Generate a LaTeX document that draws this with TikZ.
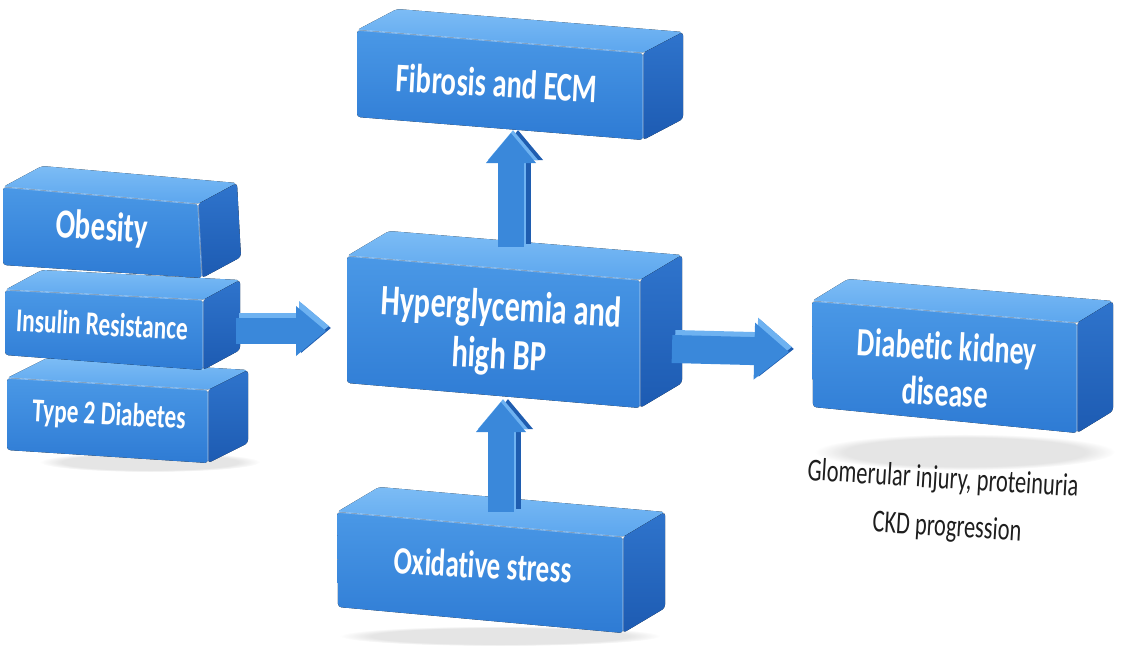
\documentclass[tikz,border=0pt]{standalone}
\usepackage{fontspec}
\newfontfamily\boxfont[FakeStretch=0.7, Ligatures={NoCommon}]{Carlito}
\usetikzlibrary{calc,fadings,arrows.meta}
\definecolor{frontT}{HTML}{4A98E6}
\definecolor{frontB}{HTML}{2E7BD4}
\definecolor{topT}{HTML}{7CBCF5}
\definecolor{topB}{HTML}{5CA6EE}
\definecolor{sideT}{HTML}{2F74CC}
\definecolor{sideB}{HTML}{1D5BB2}
\definecolor{arrC}{HTML}{3A88DA}
\definecolor{arrL}{HTML}{6EB2F1}
\definecolor{arrD}{HTML}{1F5DB0}
\definecolor{capgray}{HTML}{1E1E1E}
\tikzset{
  frontface/.style={top color=frontT, bottom color=frontB, rounded corners=2.5pt},
  topface/.style={top color=topT, bottom color=topB, rounded corners=2.5pt},
  sideface/.style={top color=sideT, bottom color=sideB, rounded corners=2.5pt},
  edgehl/.style={white, opacity=0.35, line width=1pt},
  boxtext/.style={font=\boxfont\bfseries, text=white, align=center, rotate=-3, inner sep=0pt},
  captext/.style={font=\boxfont\fontsize{24}{27}\selectfont, text=capgray, rotate=-3.5, inner sep=0pt},
  softshadow/.style={fill=black, opacity=0.10, path fading=circle with fuzzy edge 20 percent},
  arrA/.style={line width=19.5pt, -{Triangle[length=22.5pt,width=36pt]}},
  arrB/.style={line width=21pt, -{Triangle[length=26pt,width=41pt]}},
}
\newcommand\tdbox[5]{%
  \fill[topface] (#1) -- (#2) -- ($(#2)+(#5)$) -- ($(#1)+(#5)$) -- cycle;
  \fill[sideface] (#2) -- ($(#2)+(#5)$) -- ($(#3)+(#5)$) -- (#3) -- cycle;
  \fill[frontface] (#1) -- (#2) -- (#3) -- (#4) -- cycle;
  \draw[edgehl] (#1) -- (#2) -- (#3);
}
\begin{document}
\begin{tikzpicture}[x=0.75pt, y=-0.75pt]
\useasboundingbox (0,0) rectangle (1121,646);

% soft shadows
\fill[softshadow] (965,452) ellipse [x radius=150, y radius=18];
\fill[softshadow] (150,462) ellipse [x radius=110, y radius=10];
\fill[softshadow] (500,636) ellipse [x radius=160, y radius=10];

% left stack
\tdbox{7,378}{208,390}{208,463}{7,450}{40,-20}
\tdbox{5,290}{203,300}{203,370}{5,355}{37,-20}
\tdbox{3,187}{198,204}{202,278}{3,265}{39,-21}
% other boxes
\tdbox{357,30}{643,53}{643,140}{357,117}{40,-21}
\tdbox{347,256}{640,280}{640,408}{347,383}{42,-25}
\tdbox{337,512}{623,537}{623,633}{338,607}{42,-25}
\tdbox{812,301}{1077,323}{1077,433}{813,407}{36,-22}

% texts
\node[boxtext, font=\boxfont\bfseries\fontsize{31}{34}\selectfont] (ob) at (102,229) {Obesity};
\node[boxtext, font=\boxfont\bfseries\fontsize{25}{28}\selectfont] (ins) at (102,324) {Insulin Resistance};
\node[boxtext, font=\boxfont\bfseries\fontsize{25}{28}\selectfont] (t2d) at (109,416) {Type 2 Diabetes};
\node[boxtext, font=\boxfont\bfseries\fontsize{30.5}{34}\selectfont] (fib) at (497,83) {Fibrosis and ECM};
\node[boxtext, font=\boxfont\bfseries\fontsize{32.5}{36}\selectfont] (hyp) at (500,333) {Hyperglycemia and\\high BP};
\node[boxtext, font=\boxfont\bfseries\fontsize{29}{32}\selectfont] (ox) at (483,565) {Oxidative stress};
\node[boxtext, font=\boxfont\bfseries\fontsize{30}{34.5}\selectfont] (dkd) at (946,369) {Diabetic kidney\\disease};
\node[captext] (cap1) at (943,480) {Glomerular injury, proteinuria};
\node[captext] (cap2) at (947,528) {CKD progression};

% arrow anchor coordinates
\coordinate (insR) at (236,331);
\coordinate (hypL) at (326,331);
\coordinate (hypR) at (672,349);
\coordinate (dkdL) at (789,352);
\coordinate (hypT) at (511,247);
\coordinate (fibB) at (511,133);
\coordinate (oxT) at (501,512);
\coordinate (hypB) at (501,402);

% Insulin Resistance -> Hyperglycemia
\draw[arrA, arrD] ([shift={(5,-3)}]insR) -- ([shift={(5,-3)}]hypL);
\draw[arrA, arrL] ([shift={(3,-5)}]insR) -- ([shift={(3,-5)}]hypL);
\draw[arrA, arrC] (insR) -- (hypL);
% Hyperglycemia -> Diabetic kidney disease
\draw[arrB, arrD] ([shift={(5,-3)}]hypR) -- ([shift={(5,-3)}]dkdL);
\draw[arrB, arrL] ([shift={(3,-5)}]hypR) -- ([shift={(3,-5)}]dkdL);
\draw[arrB, arrC] (hypR) -- (dkdL);
% Hyperglycemia -> Fibrosis
\draw[arrA, arrD] ([shift={(7,-3)}]hypT) -- ([shift={(7,-3)}]fibB);
\draw[arrA, arrL] ([shift={(2,-3)}]hypT) -- ([shift={(2,-3)}]fibB);
\draw[arrA, arrC] (hypT) -- (fibB);
% Oxidative stress -> Hyperglycemia
\draw[arrA, arrD] ([shift={(7,-3)}]oxT) -- ([shift={(7,-3)}]hypB);
\draw[arrA, arrL] ([shift={(2,-3)}]oxT) -- ([shift={(2,-3)}]hypB);
\draw[arrA, arrC] (oxT) -- (hypB);
\end{tikzpicture}
\end{document}
